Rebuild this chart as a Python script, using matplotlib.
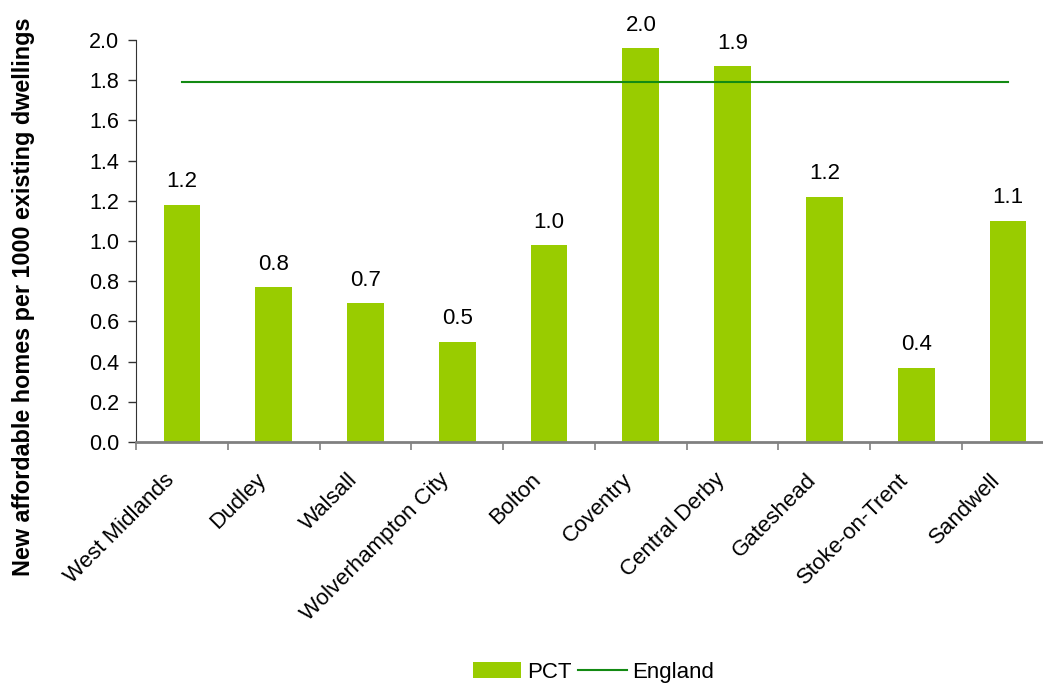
import numpy as np
import matplotlib
matplotlib.use('Agg')
import matplotlib.pyplot as plt
from matplotlib.ticker import FixedLocator, MultipleLocator

plt.rcParams['font.family'] = ['Liberation Sans', 'DejaVu Sans']

# Data
areas = ['West Midlands', 'Dudley', 'Walsall', 'Wolverhampton City', 'Bolton',
         'Coventry', 'Central Derby', 'Gateshead', 'Stoke-on-Trent', 'Sandwell']
pct_values = [1.18, 0.77, 0.69, 0.50, 0.98, 1.96, 1.87, 1.22, 0.37, 1.10]
england_value = 1.79

bar_color = '#99CC00'
line_color = '#138A13'

fig = plt.figure(figsize=(10.43, 6.84), dpi=100)
# axes run a little past the right edge of the figure
ax = fig.add_axes([0.1304, 0.3538, 0.880, 0.5877])

x = np.arange(len(areas))
ax.bar(x, pct_values, width=0.4, color=bar_color, label='PCT', zorder=2)
ax.plot(x, [england_value] * len(x), color=line_color, linewidth=1.5,
        label='England', zorder=3)

for xi, v in zip(x, pct_values):
    ax.annotate(f'{v:.1f}', (xi, v), xytext=(0, 9), textcoords='offset points',
                ha='center', va='bottom', fontsize=16)

ax.set_xlim(-0.5, len(areas) - 0.5)
ax.set_ylim(0, 2.0)
ax.yaxis.set_major_locator(MultipleLocator(0.2))
ax.yaxis.set_major_formatter(plt.FuncFormatter(lambda v, p: f'{v:.1f}'))

# category names, slanted and ending just left of each bar centre
ax.set_xticks(x)
ax.set_xticklabels([])
for xi, name in zip(x, areas):
    ax.annotate(name, xy=(xi, 0), xycoords=('data', 'axes fraction'),
                xytext=(-8, -25), textcoords='offset points',
                rotation=45, ha='right', va='center', rotation_mode='anchor',
                fontsize=16)
ax.xaxis.set_minor_locator(FixedLocator(np.arange(-0.5, len(areas), 1.0)))
ax.tick_params(axis='x', which='major', length=0)
ax.tick_params(axis='x', which='minor', length=6, color='#808080', width=1.2)
ax.tick_params(axis='y', labelsize=15.5, length=6, width=1, color='#333333', pad=6)

for side in ['top', 'right']:
    ax.spines[side].set_visible(False)
ax.spines['bottom'].set_color('#808080')
ax.spines['bottom'].set_linewidth(2)
ax.spines['left'].set_color('#333333')

fig.text(24 / 1043, 1 - 297 / 684, 'New affordable homes per 1000 existing dwellings',
         rotation=90, ha='center', va='center', fontsize=16.8, fontweight='bold')

handles, labels = ax.get_legend_handles_labels()
fig.legend(handles[::-1], labels[::-1], loc='center', bbox_to_anchor=(0.569, 0.017),
           ncol=2, frameon=False, fontsize=16, handlelength=2.2,
           handletextpad=0.25, columnspacing=0.3)

fig.savefig('out.png', dpi=100)
